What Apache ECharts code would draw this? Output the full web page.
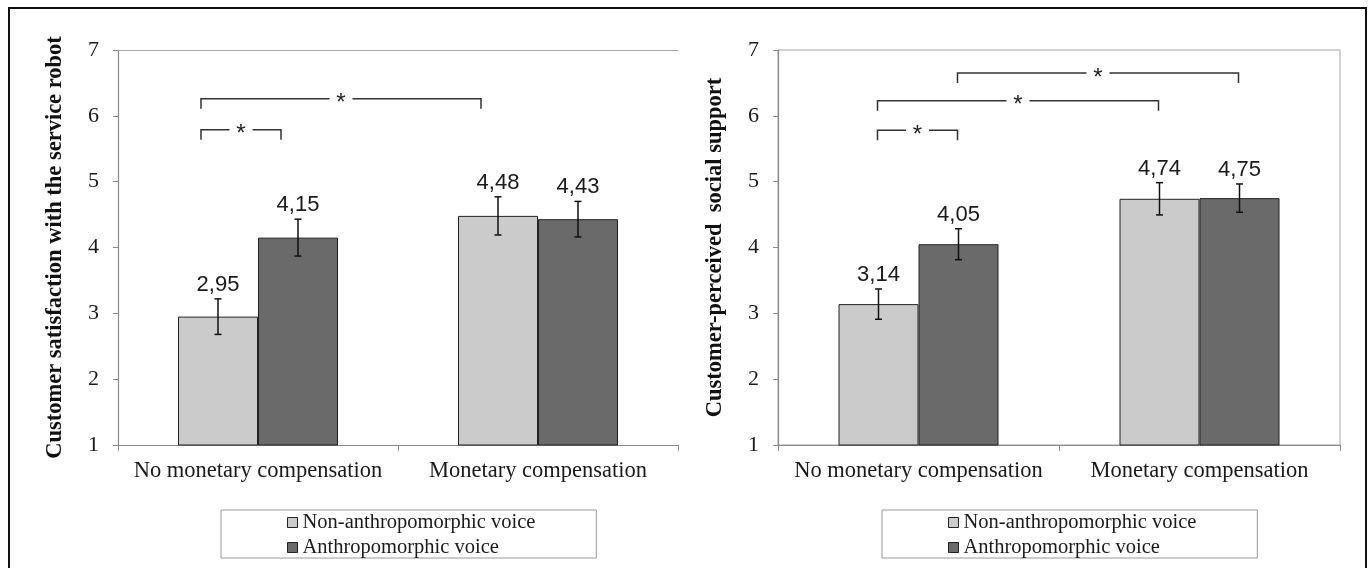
<!DOCTYPE html>
<html>
<head>
<meta charset="utf-8">
<script src="https://cdn.jsdelivr.net/npm/echarts@6/dist/echarts.min.js"></script>
<style>
  html, body { margin: 0; padding: 0; background: #fff; }
  #chart { width: 1372px; height: 568px; }
</style>
</head>
<body>
<div id="chart"></div>
<script>
// ---- data ----
const categories = ['No monetary compensation', 'Monetary compensation'];
const seriesNames = ['Non-anthropomorphic voice', 'Anthropomorphic voice'];
const yMin = 1, yMax = 7, yStep = 1;

const satisfactionTitle = 'Customer satisfaction with the service robot';
const satNonAnthro = [2.95, 4.48];
const satAnthro = [4.15, 4.43];
const satErrNonAnthro = [0.27, 0.29];
const satErrAnthro = [0.28, 0.27];
// [fromCategory, fromSeries, toCategory, toSeries, level]
const satBrackets = [[0, 0, 0, 1, 5.79], [0, 0, 1, 0, 6.26]];

const supportTitle = 'Customer-perceived  social support';
const supNonAnthro = [3.14, 4.74];
const supAnthro = [4.05, 4.75];
const supErrNonAnthro = [0.23, 0.245];
const supErrAnthro = [0.235, 0.215];
const supBrackets = [[0, 0, 0, 1, 5.78], [0, 0, 1, 0, 6.23], [0, 1, 1, 1, 6.65]];

// ---- styling ----
const SERIF = "'Liberation Serif', 'Times New Roman', serif";
const SANS = "'Liberation Sans', Arial, sans-serif";
const BAR_W = 80;
const COLORS = ['#cbcbcb', '#6a6a6a'];

const chart = echarts.init(document.getElementById('chart'), null, { renderer: 'canvas' });

function fmt(v) { return v.toFixed(2).replace('.', ','); }

function errSeries(gridIdx, sIdx, vals, errs) {
  return {
    type: 'custom',
    xAxisIndex: gridIdx, yAxisIndex: gridIdx,
    z: 5, silent: true,
    encode: { x: 0, y: [1, 2] },
    data: vals.map((v, i) => [i, v - errs[i], v + errs[i], v]),
    renderItem: function (params, api) {
      const c = api.value(0);
      const lo = api.coord([c, api.value(1)]);
      const hi = api.coord([c, api.value(2)]);
      const x = lo[0] + (sIdx - 0.5) * BAR_W;
      const cap = 3.5;
      const st = { stroke: '#111', lineWidth: 1.5 };
      return {
        type: 'group',
        children: [
          { type: 'line', shape: { x1: x, y1: lo[1], x2: x, y2: hi[1] }, style: st },
          { type: 'line', shape: { x1: x - cap, y1: lo[1], x2: x + cap, y2: lo[1] }, style: st },
          { type: 'line', shape: { x1: x - cap, y1: hi[1], x2: x + cap, y2: hi[1] }, style: st },
          { type: 'text', x: x, y: hi[1] - 3,
            style: { text: fmt(api.value(3)), fill: '#1a1a1a', font: '22px ' + SANS,
                     align: 'center', verticalAlign: 'bottom' } }
        ]
      };
    }
  };
}

function bracketSeries(gridIdx, brackets, shift) {
  return {
    type: 'custom',
    xAxisIndex: gridIdx, yAxisIndex: gridIdx,
    z: 6, silent: true,
    encode: { x: 0, y: 4 },
    data: brackets,
    renderItem: function (params, api) {
      const lvl = api.value(4);
      const p1 = api.coord([api.value(0), lvl]);
      const p2 = api.coord([api.value(2), lvl]);
      const x1 = p1[0] + (api.value(1) - 0.5) * BAR_W + shift;
      const x2 = p2[0] + (api.value(3) - 0.5) * BAR_W + shift;
      const y = p1[1];
      const xm = (x1 + x2) / 2;
      const leg = 10, gap = 11.5;
      const st = { stroke: '#333', lineWidth: 1.5, fill: null };
      return {
        type: 'group',
        children: [
          { type: 'polyline', shape: { points: [[x1, y + leg], [x1, y], [xm - gap, y]] }, style: st },
          { type: 'polyline', shape: { points: [[xm + gap, y], [x2, y], [x2, y + leg]] }, style: st },
          { type: 'text', x: xm, y: y + 5,
            style: { text: '*', fill: '#222', font: '24px ' + SANS, align: 'center', verticalAlign: 'middle' } }
        ]
      };
    }
  };
}

function barSeries(gridIdx, sIdx, vals) {
  return {
    name: seriesNames[sIdx],
    type: 'bar',
    xAxisIndex: gridIdx, yAxisIndex: gridIdx,
    barWidth: BAR_W, barGap: '0%',
    data: vals,
    itemStyle: { color: COLORS[sIdx], borderColor: '#222', borderWidth: 1 },
    emphasis: { disabled: true },
    z: 2
  };
}

function xAxisMain(gridIdx) {
  return {
    type: 'category', gridIndex: gridIdx, data: categories,
    axisLine: { lineStyle: { color: '#8a8a8a', width: 1.2 } },
    axisTick: { show: true, length: 6, lineStyle: { color: '#8a8a8a' } },
    axisLabel: { color: '#1a1a1a', fontFamily: SERIF, fontSize: 22.5, margin: 15, interval: 0, hideOverlap: false },
    splitLine: { show: false }
  };
}

function yAxisMain(gridIdx, title) {
  return {
    type: 'value', gridIndex: gridIdx, min: yMin, max: yMax, interval: yStep,
    name: title, nameLocation: 'middle', nameRotate: 90, nameGap: 51,
    nameTextStyle: { fontFamily: SERIF, fontSize: 22.5, fontWeight: 'bold', color: '#111' },
    axisLine: { show: true, lineStyle: { color: '#8a8a8a', width: 1.2 } },
    axisTick: { show: true, length: 5, lineStyle: { color: '#8a8a8a' } },
    axisLabel: { color: '#1a1a1a', fontFamily: SERIF, fontSize: 22, margin: 19 },
    splitLine: { show: false }
  };
}

function legendAt(left) {
  return {
    data: seriesNames,
    orient: 'vertical',
    left: left, top: 510,
    padding: [2, 61, 0, 66],
    itemGap: 4,
    itemWidth: 10, itemHeight: 10,
    icon: 'rect',
    borderColor: '#9a9a9a', borderWidth: 1,
    selectedMode: false,
    textStyle: { fontFamily: SERIF, fontSize: 20.5, color: '#1a1a1a' },
    itemStyle: { borderColor: '#222', borderWidth: 1 }
  };
}

const option = {
  animation: false,
  backgroundColor: '#fff',
  grid: [
    { left: 118, top: 50, width: 560, height: 395 },
    { left: 778, top: 50, width: 562, height: 395, show: true, borderColor: '#a8a8a8', borderWidth: 1 }
  ],
  xAxis: [
    xAxisMain(0),
    xAxisMain(1),
    { type: 'category', gridIndex: 0, position: 'top', data: categories,
      axisLine: { lineStyle: { color: '#a8a8a8', width: 1 } },
      axisTick: { show: false }, axisLabel: { show: false } }
  ],
  yAxis: [
    yAxisMain(0, satisfactionTitle),
    yAxisMain(1, supportTitle)
  ],
  legend: [legendAt(221), legendAt(882)],
  graphic: [
    { type: 'rect', shape: { x: 9, y: 8, width: 1357, height: 580 },
      style: { fill: null, stroke: '#111', lineWidth: 2 }, z: 100, silent: true }
  ],
  series: [
    barSeries(0, 0, satNonAnthro),
    barSeries(0, 1, satAnthro),
    barSeries(1, 0, supNonAnthro),
    barSeries(1, 1, supAnthro),
    errSeries(0, 0, satNonAnthro, satErrNonAnthro),
    errSeries(0, 1, satAnthro, satErrAnthro),
    errSeries(1, 0, supNonAnthro, supErrNonAnthro),
    errSeries(1, 1, supAnthro, supErrAnthro),
    bracketSeries(0, satBrackets, -17),
    bracketSeries(1, supBrackets, -1)
  ]
};

chart.setOption(option);
</script>
</body>
</html>
